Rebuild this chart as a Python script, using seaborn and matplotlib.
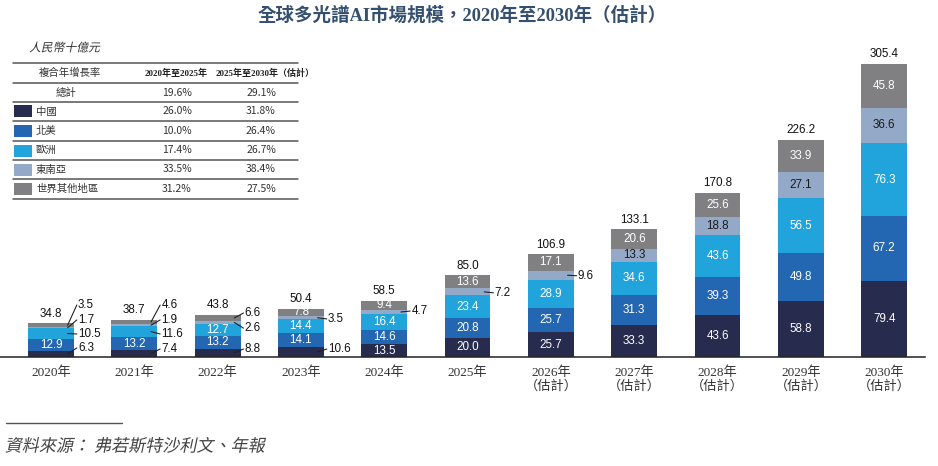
import matplotlib
matplotlib.use('Agg')
import matplotlib.pyplot as plt
import seaborn as sns
import numpy as np
from matplotlib.patches import Rectangle, PathPatch
from matplotlib.lines import Line2D
from matplotlib.textpath import TextPath
from matplotlib.font_manager import FontProperties
from matplotlib.transforms import Affine2D

# datos del gráfico (RMB mil millones)
years = ['2020', '2021', '2022', '2023', '2024', '2025', '2026', '2027', '2028', '2029', '2030']
estimated = [False, False, False, False, False, False, True, True, True, True, True]
china = [6.3, 7.4, 8.8, 10.6, 13.5, 20.0, 25.7, 33.3, 43.6, 58.8, 79.4]
north_america = [12.9, 13.2, 13.2, 14.1, 14.6, 20.8, 25.7, 31.3, 39.3, 49.8, 67.2]
europe = [10.5, 11.6, 12.7, 14.4, 16.4, 23.4, 28.9, 34.6, 43.6, 56.5, 76.3]
se_asia = [1.7, 1.9, 2.6, 3.5, 4.7, 7.2, 9.6, 13.3, 18.8, 27.1, 36.6]
rest_world = [3.5, 4.6, 6.6, 7.8, 9.4, 13.6, 17.1, 20.6, 25.6, 33.9, 45.8]
totals = [34.8, 38.7, 43.8, 50.4, 58.5, 85.0, 106.9, 133.1, 170.8, 226.2, 305.4]

region_names = ['中國', '北美', '歐洲', '東南亞', '世界其他地區']
cagr_2020_2025 = ['26.0%', '10.0%', '17.4%', '33.5%', '31.2%']
cagr_2025_2030 = ['31.8%', '26.4%', '26.7%', '38.4%', '27.5%']
total_cagr = ['19.6%', '29.1%']

colores = ['#272b4d', '#2366b1', '#21a4dc', '#94a9c7', '#808082']
color_texto = ['white', 'white', 'white', '#1a1a1a', 'white']

# etiquetas fuera de la barra: (año, serie) -> desplazamiento vertical del texto
fuera = {
    (0, 0): 6.3, (0, 2): -0.5, (0, 3): 8.0, (0, 4): 21.0,
    (1, 0): 4.6, (1, 2): -2.4, (1, 3): 5.4, (1, 4): 17.6,
    (2, 0): 3.9, (2, 3): -6.0, (2, 4): 5.2,
    (3, 0): 3.0, (3, 3): -1.2,
    (4, 3): 1.0,
    (5, 3): -1.0,
    (6, 3): -0.5,
}

W, H = 938, 466
fig = plt.figure(figsize=(W / 100, H / 100), dpi=100)
fig.patch.set_facecolor('white')

sns.set_style('white')
plt.rcParams['font.family'] = ['Liberation Sans', 'Noto Sans CJK TC']


def px(x, y):
    return x / W, 1 - y / H


def texto_cursiva(x, y, s, size, color):
    # texto inclinado a mano (la fuente CJK no tiene cursiva)
    prop = FontProperties(family='Noto Sans CJK TC')
    tp = TextPath((0, 0), s, size=size, prop=prop)
    bb = tp.get_extents()
    tr = (Affine2D().translate(0, -(bb.y0 + bb.y1) / 2).skew_deg(12, 0)
          .scale(1 / 72).translate(x / 100, (H - y) / 100) + fig.dpi_scale_trans)
    fig.add_artist(PathPatch(tp, transform=tr, facecolor=color, edgecolor='none', lw=0))


ax = fig.add_axes([0, (H - 357) / H, 925 / W, (357 - 40) / H])

series = [china, north_america, europe, se_asia, rest_world]
acumulado = np.cumsum(np.array(series), axis=0)

# barras apiladas: se dibuja del acumulado mayor al menor
for k in range(4, -1, -1):
    sns.barplot(x=years, y=acumulado[k], color=colores[k], width=0.55,
                saturation=1, errorbar=None, linewidth=0, ax=ax)

ax.set_xlim(-0.612, 10.49)
ax.set_ylim(0, 330)

for i in range(len(years)):
    for k in range(5):
        base = acumulado[k - 1][i] if k > 0 else 0
        medio = base + series[k][i] / 2
        valor = f'{series[k][i]:.1f}'
        if (i, k) in fuera:
            ty = medio + fuera[(i, k)]
            ax.plot([i + 0.20, i + 0.31], [medio, ty], color='#222222', lw=0.8)
            ax.text(i + 0.325, ty, valor, ha='left', va='center',
                    fontsize=8.4, color='#111111')
        else:
            ax.text(i, medio, valor, ha='center', va='center',
                    fontsize=8.4, color=color_texto[k])
    ax.annotate(f'{totals[i]:.1f}', (i, acumulado[4][i]), xytext=(0, 2.5),
                textcoords='offset points', ha='center', va='bottom',
                fontsize=8.4, color='#111111')

etiquetas = [f'{y}年\n（估計）' if e else f'{y}年' for y, e in zip(years, estimated)]
ax.set_xticks(range(len(years)))
ax.set_xticklabels(etiquetas, family=['Liberation Serif', 'Noto Sans CJK TC'],
                   fontsize=9.5, color='#333333', linespacing=1.05)
ax.tick_params(axis='x', length=0, pad=7)
ax.set_yticks([])
ax.set_xlabel('')
ax.set_ylabel('')
for lado in ['top', 'right', 'left']:
    ax.spines[lado].set_visible(False)
ax.spines['bottom'].set_color('#222222')
ax.spines['bottom'].set_linewidth(1.1)
ax.patch.set_alpha(0)

# título
fig.text(*px(462, 15), '全球多光譜AI市場規模，2020年至2030年（估計）',
         ha='center', va='center', fontsize=13.3, fontweight='bold',
         color='#34506e', family=['Liberation Serif', 'Noto Sans CJK TC'])

# unidad
texto_cursiva(30, 47, '人民幣十億元', 8.5, '#333333')

# tabla de crecimiento
lineas_y = [63, 83, 102, 121, 141, 160, 179, 199]
for ly in lineas_y:
    x0, y0 = px(13, ly)
    x1, _ = px(298, ly)
    fig.add_artist(Line2D([x0, x1], [y0, y0], color='#555555', lw=1.1))

fig.text(*px(70, 73), '複合年增長率', ha='center', va='center', fontsize=7.5,
         color='#333333', family=['Noto Sans CJK TC'])
fig.text(*px(176, 73), '2020年至2025年', ha='center', va='center', fontsize=6.5,
         fontweight='bold', color='#222222', family=['Liberation Serif', 'Noto Sans CJK TC'])
fig.text(*px(265, 73), '2025年至2030年（估計）', ha='center', va='center', fontsize=6.5,
         fontweight='bold', color='#222222', family=['Liberation Serif', 'Noto Sans CJK TC'])

fig.text(*px(66, 92.5), '總計', ha='center', va='center', fontsize=7.5,
         color='#333333', family=['Noto Sans CJK TC'])
fig.text(*px(177, 92.5), total_cagr[0], ha='center', va='center', fontsize=7.5,
         color='#333333', family=['Noto Sans CJK TC'])
fig.text(*px(261, 92.5), total_cagr[1], ha='center', va='center', fontsize=7.5,
         color='#333333', family=['Noto Sans CJK TC'])

filas_y = [111.5, 131, 150.5, 169.5, 189]
for j, fy in enumerate(filas_y):
    sx, sy = px(14, fy + 6)
    fig.add_artist(Rectangle((sx, sy), 18 / W, 12 / H, facecolor=colores[j],
                             edgecolor='none', transform=fig.transFigure))
    fig.text(*px(36, fy), region_names[j], ha='left', va='center', fontsize=7.5,
             color='#333333', family=['Noto Sans CJK TC'])
    fig.text(*px(177, fy), cagr_2020_2025[j], ha='center', va='center', fontsize=7.5,
             color='#333333', family=['Noto Sans CJK TC'])
    fig.text(*px(261, fy), cagr_2025_2030[j], ha='center', va='center', fontsize=7.5,
             color='#333333', family=['Noto Sans CJK TC'])

# fuente
x0, y0 = px(6, 423)
x1, _ = px(122, 423)
fig.add_artist(Line2D([x0, x1], [y0, y0], color='#555555', lw=1.0))
texto_cursiva(6, 445, '資料來源： 弗若斯特沙利文、年報', 12.3, '#444444')

fig.savefig('out.png', dpi=100, facecolor='white')
